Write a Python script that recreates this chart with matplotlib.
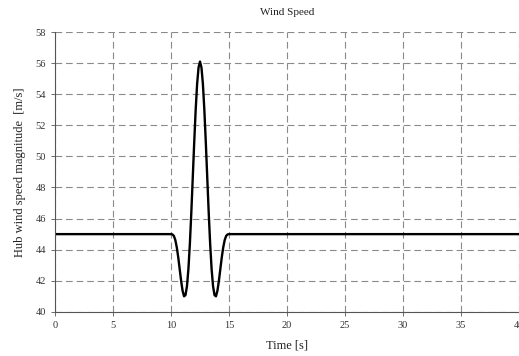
import numpy as np
import matplotlib
matplotlib.use('Agg')
import matplotlib.pyplot as plt

plt.rcParams['font.family'] = ['Liberation Serif', 'DejaVu Serif']

# Hub wind speed (gust between 10 s and 15 s)
time_s = [0.0] + list(np.arange(10.0, 15.0001, 0.125)) + [40.0]
wind_speed = [45.00,
              45.00, 44.98, 44.88, 44.61, 44.14, 43.50, 42.74, 41.98, 41.35, 41.00,
              41.08, 41.65, 42.75, 44.37, 46.38, 48.63, 50.90, 52.98, 54.65, 55.72,
              56.10,
              55.72, 54.65, 52.98, 50.90, 48.63, 46.38, 44.37, 42.75, 41.65, 41.08,
              41.00, 41.35, 41.98, 42.74, 43.50, 44.14, 44.61, 44.88, 44.98, 45.00,
              45.00]

x_ticks = [0, 5, 10, 15, 20, 25, 30, 35, 40]
y_ticks = [40, 42, 44, 46, 48, 50, 52, 54, 56, 58]

fig = plt.figure(figsize=(5.19, 3.56), dpi=100)
ax = fig.add_axes([0.106, 0.124, 0.894, 0.786])

ax.plot(time_s, wind_speed, color='black', linewidth=1.7, solid_capstyle='round')

ax.set_xlim(0, 40)
ax.set_ylim(40, 58)
ax.set_xticks(x_ticks)
ax.set_yticks(y_ticks)
ax.grid(True, color='#8a8a8a', linestyle=(0, (6, 3.5)), linewidth=0.8)
ax.set_axisbelow(True)

for side in ['top', 'right']:
    ax.spines[side].set_visible(False)
for side in ['left', 'bottom']:
    ax.spines[side].set_color('#555555')
    ax.spines[side].set_linewidth(0.8)

ax.tick_params(labelsize=7.5, length=3, width=0.6, color='#555555', labelcolor='#333333')

ax.set_title('Wind Speed', fontsize=8, pad=12, color='#222222')
ax.set_xlabel('Time [s]', fontsize=9, labelpad=7, color='#222222')
ax.set_ylabel('Hub wind speed magnitude  [m/s]', fontsize=9, labelpad=7, color='#222222')

plt.savefig('out.png', dpi=100)
